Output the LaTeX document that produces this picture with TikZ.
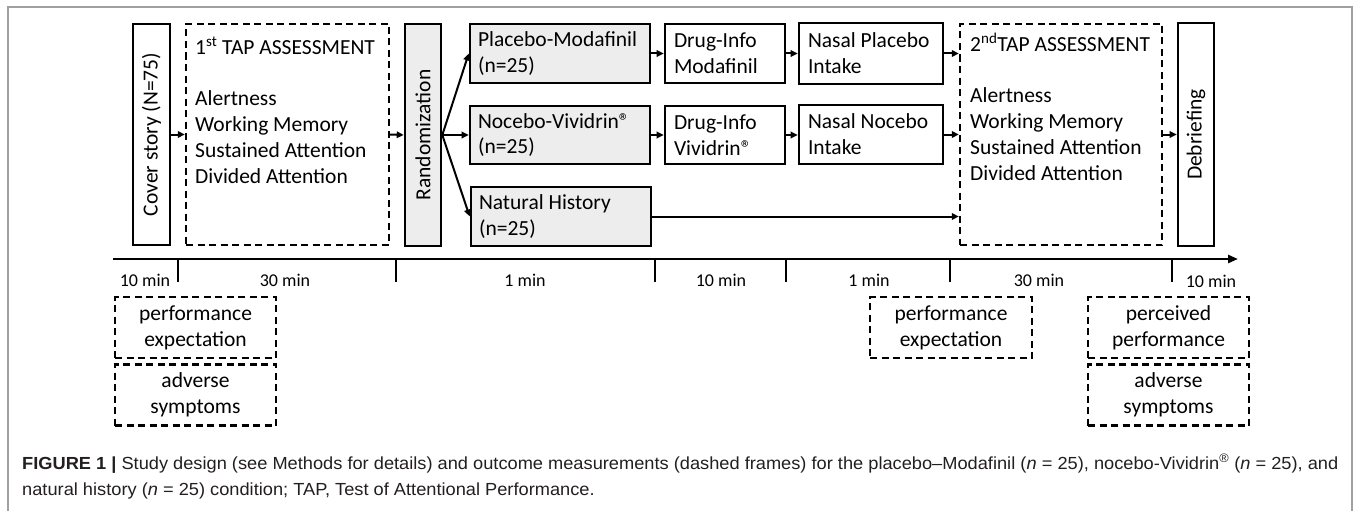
\documentclass[tikz,border=0pt]{standalone}
\usepackage{fontspec}
\setmainfont{Carlito}
\newfontfamily\capfont{Liberation Sans}
\usetikzlibrary{arrows.meta}
\definecolor{boxgray}{RGB}{237,237,237}
\definecolor{framegray}{RGB}{160,160,160}
\definecolor{captext}{RGB}{35,31,32}
\begin{document}
\begin{tikzpicture}[x=1pt,y=-1pt,
  box/.style={draw=black, line width=2.6pt, fill=white, inner sep=0pt},
  gbox/.style={box, fill=boxgray},
  dbox/.style={draw=black, line width=2.4pt, dash pattern=on 7pt off 4.5pt, inner sep=0pt},
  arr/.style={line width=2pt, -{Triangle[length=7pt,width=6.5pt]}},
  mainfont/.style={font=\fontsize{21.5}{25.8}\selectfont},
  ticklab/.style={font=\fontsize{18}{22}\selectfont, inner sep=0pt},
  tickline/.style={line width=2.6pt},
  grp/.style={gbox, mainfont, align=flush left, inner xsep=8pt, text width=164pt, minimum width=180pt},
  info/.style={box, mainfont, align=flush left, inner xsep=9pt},
  meas/.style={dbox, mainfont, align=center, minimum height=61pt},
]
\useasboundingbox (0,0) rectangle (1355,511);
\fill[white] (0,0) rectangle (1355,511);
\draw[framegray, line width=1.3pt] (8,511) -- (8,7) -- (1352,7) -- (1352,511);

% main flow
\node[box, mainfont, rotate=90, minimum width=221pt, minimum height=37pt] (cover) at (151.5,134.5) {Cover story (N=75)};
\node[dbox, minimum width=203pt, minimum height=221pt] (tapA) at (287.5,134.5) {};
\node[mainfont, anchor=north west, align=flush left, inner sep=0pt] (tapAtxt) at (195,37)
  {1\textsuperscript{st} TAP ASSESSMENT\\[25.8pt]Alertness\\Working Memory\\Sustained Attention\\Divided Attention};
\node[gbox, mainfont, rotate=90, minimum width=222pt, minimum height=36pt] (rand) at (423,135) {Randomization};

\node[grp, minimum height=59pt] (pm) at (560,53.5) {Placebo-Modafinil\\(n=25)};
\node[grp, minimum height=58pt] (nv) at (560,135) {Nocebo-Vividrin®\\(n=25)};
\node[grp, minimum height=59pt] (nh) at (561,216.5) {Natural History\\(n=25)};

\node[info, text width=102pt, minimum width=120pt, minimum height=59pt] (dm) at (725,53.5) {Drug-Info\\Modafinil};
\node[info, text width=102pt, minimum width=120pt, minimum height=58pt] (dv) at (725,135) {Drug-Info\\Vividrin®};
\node[info, text width=126pt, minimum width=144pt, minimum height=61pt] (np) at (871,53.5) {Nasal Placebo\\Intake};
\node[info, text width=126pt, minimum width=144pt, minimum height=59pt] (nn) at (871,134.5) {Nasal Nocebo\\Intake};

\node[dbox, minimum width=202pt, minimum height=221pt] (tapB) at (1061,134.5) {};
\node[mainfont, anchor=north west, align=flush left, inner sep=0pt] (tapBtxt) at (970,33)
  {2\textsuperscript{nd}TAP ASSESSMENT\\[25.8pt]Alertness\\Working Memory\\Sustained Attention\\Divided Attention};
\node[box, mainfont, rotate=90, minimum width=223pt, minimum height=36pt] (debr) at (1196,134.5) {Debriefing};

% connectors
\draw[arr] (cover.south) -- (tapA.west);
\draw[arr] (tapA.east) -- (rand.north);
\draw[arr] (rand.south) -- (pm.west);
\draw[arr] (rand.south) -- (nv.west);
\draw[arr] (rand.south) -- (nh.west);
\draw[arr] (pm.east) -- (dm.west);
\draw[arr] (nv.east) -- (dv.west);
\draw[arr] (dm.east) -- (dm.east -| np.west);
\draw[arr] (dv.east) -- (dv.east -| nn.west);
\draw[arr] (np.east) -- (np.east -| tapB.west);
\draw[arr] (nn.east) -- (nn.east -| tapB.west);
\draw[arr] (nh.east) -- (nh.east -| tapB.west);
\draw[arr] (tapB.east) -- (tapB.east -| debr.north);

% timeline
\coordinate (tl0) at (113,259);
\coordinate (tl1) at (1238,259);
\draw[line width=2.6pt, -{Triangle[length=10pt,width=8pt]}] (tl0) -- (tl1);
\foreach \x/\n in {178/a,396/b,655/c,786/d,950/e,1172/f}{
  \coordinate (t\n) at (\x,259);
  \draw[tickline] (t\n) -- ++(0,23);
}
\node[ticklab] (l1) at (145,280) {10 min};
\node[ticklab] (l2) at (285,280) {30 min};
\node[ticklab] (l3) at (525,280) {1 min};
\node[ticklab] (l4) at (721,280) {10 min};
\node[ticklab] (l5) at (869,280) {1 min};
\node[ticklab] (l6) at (1039,280) {30 min};
\node[ticklab] (l7) at (1211,281) {10 min};

% measurement boxes
\node[meas, minimum width=161pt] (m1) at (195.5,327.5) {performance\\expectation};
\node[meas, minimum width=161pt] (m2) at (195.5,395) {adverse\\symptoms};
\node[meas, minimum width=162pt] (m3) at (951,327.5) {performance\\expectation};
\node[meas, minimum width=161pt] (m4) at (1168.5,327.5) {perceived\\performance};
\node[meas, minimum width=161pt] (m5) at (1168.5,395) {adverse\\symptoms};

% caption
\node[anchor=base west, inner sep=0pt, text=captext] (cap) at (22,469)
  {\resizebox{1316pt}{\height}{\capfont\fontsize{17.5}{26}\selectfont\begin{tabular}[t]{@{}l@{}}%
  \textbf{FIGURE 1 |} Study design (see Methods for details) and outcome measurements (dashed frames) for the placebo–Modafinil (\textit{n} = 25), nocebo-Vividrin\textsuperscript{®} (\textit{n} = 25), and\\
  natural history (\textit{n} = 25) condition; TAP, Test of Attentional Performance.
  \end{tabular}}};
\end{tikzpicture}
\end{document}
